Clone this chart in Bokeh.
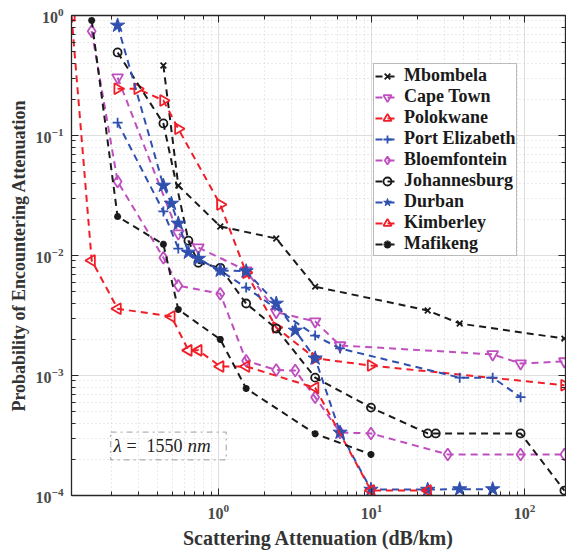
import math
from bokeh.plotting import figure
from bokeh.models import (Legend, LegendItem, LogAxis, LogTicker, Label,
                          BoxAnnotation, Range1d, CustomJSTickFormatter)
from bokeh.embed import file_html
from bokeh.resources import INLINE

# Scattering attenuation (dB/km) vs. probability of encountering it, per city
mbombela_x = [0.438, 0.548, 1.03, 2.39, 4.29, 23.3, 37.7, 182]
mbombela_y = [0.383, 0.0383, 0.01745, 0.01386, 5.5e-3, 3.48e-3, 2.71e-3, 2.03e-3]

cape_town_x = [0.220, 0.548, 0.741, 1.52, 2.39, 4.29, 6.24, 61.9, 94.2, 182]
cape_town_y = [0.304, 0.01525, 0.01166, 7.5e-3, 3.37e-3, 2.82e-3, 1.78e-3, 1.50e-3, 1.26e-3, 1.31e-3]

polokwane_x = [0.220, 0.297, 0.438, 0.548, 1.03, 1.52, 2.39, 4.29, 9.93, 182]
polokwane_y = [0.245, 0.245, 0.196, 0.1137, 0.0266, 7.2e-3, 2.51e-3, 1.39e-3, 1.21e-3, 8.3e-4]

port_elizabeth_x = [0.220, 0.438, 0.548, 1.03, 1.52, 4.29, 6.24, 37.7, 61.9, 94.2]
port_elizabeth_y = [0.128, 0.0233, 0.01143, 7.5e-3, 5.4e-3, 2.15e-3, 1.68e-3, 9.6e-4, 9.6e-4, 6.6e-4]

bloemfontein_x = [0.149, 0.220, 0.438, 0.548, 1.03, 1.52, 2.39, 3.18, 4.29, 6.24, 9.93, 31.5, 94.2, 182]
bloemfontein_y = [0.74, 0.0414, 9.6e-3, 5.6e-3, 4.8e-3, 1.33e-3, 1.11e-3, 1.10e-3, 6.6e-4, 3.35e-4,
                  3.29e-4, 2.2e-4, 2.2e-4, 2.2e-4]

johannesburg_x = [0.220, 0.438, 0.638, 0.741, 1.03, 1.52, 2.39, 4.29, 9.93, 23.3, 26.3, 94.2, 182]
johannesburg_y = [0.492, 0.126, 0.0133, 8.7e-3, 7.9e-3, 3.98e-3, 2.46e-3, 9.6e-4, 5.4e-4, 3.29e-4,
                  3.29e-4, 3.29e-4, 1.1e-4]

durban_x = [0.220, 0.438, 0.494, 0.548, 0.638, 0.741, 1.03, 1.52, 2.39, 3.18, 4.29, 6.24, 9.93, 23.3, 37.7, 61.9]
durban_y = [0.826, 0.0383, 0.0271, 0.0185, 0.0106, 9.4e-3, 7.5e-3, 7.4e-3, 3.98e-3, 2.37e-3, 1.39e-3,
            3.35e-4, 1.12e-4, 1.12e-4, 1.13e-4, 1.13e-4]

kimberley_x = [0.110, 0.149, 0.220, 0.494, 0.638, 0.741, 1.03, 1.52, 4.29, 9.93, 23.3]
kimberley_y = [1.0, 9.1e-3, 3.6e-3, 3.1e-3, 1.62e-3, 1.62e-3, 1.19e-3, 1.19e-3, 7.9e-4, 1.1e-4, 1.1e-4]

mafikeng_x = [0.149, 0.220, 0.438, 0.548, 1.03, 1.52, 4.29, 9.93]
mafikeng_y = [0.91, 0.0211, 0.0124, 3.55e-3, 2.0e-3, 7.8e-4, 3.27e-4, 2.2e-4]

BLACK = "#1a1a1a"
MAGENTA = "#bf4fbf"
RED = "#f01e28"
BLUE = "#3050b0"

series = [
    ("Mbombela", mbombela_x, mbombela_y, BLACK, dict(marker="x", size=8, line_width=1.8)),
    ("Cape Town", cape_town_x, cape_town_y, MAGENTA, dict(marker="inverted_triangle", size=11, line_width=1.8)),
    ("Polokwane", polokwane_x, polokwane_y, RED, dict(marker="triangle", size=11, line_width=1.8, angle=-math.pi / 2)),
    ("Port Elizabeth", port_elizabeth_x, port_elizabeth_y, BLUE, dict(marker="cross", size=10, line_width=1.8)),
    ("Bloemfontein", bloemfontein_x, bloemfontein_y, MAGENTA, dict(marker="diamond", size=12, line_width=1.8)),
    ("Johannesburg", johannesburg_x, johannesburg_y, BLACK, dict(marker="circle", size=8, line_width=1.8)),
    ("Durban", durban_x, durban_y, BLUE, dict(marker="star", size=15, line_width=1, filled=True)),
    ("Kimberley", kimberley_x, kimberley_y, RED, dict(marker="triangle", size=11, line_width=1.8, angle=math.pi / 2)),
    ("Mafikeng", mafikeng_x, mafikeng_y, BLACK, dict(marker="asterisk", size=7, line_width=2.2)),
]

p = figure(width=566, height=551, x_axis_type="log", y_axis_type="log",
           x_range=Range1d(0.11, 185), y_range=Range1d(1e-4, 1),
           output_backend="svg", toolbar_location=None,
           min_border_left=71, min_border_right=1, min_border_top=15, min_border_bottom=56)
p.background_fill_color = "white"
p.border_fill_color = "white"
p.outline_line_color = None

SERIF = "'Liberation Serif'"
AXIS_COL = "#262626"

for ax in (p.xaxis[0], p.yaxis[0]):
    ax.major_label_text_font = SERIF
    ax.major_label_text_font_style = "bold"
    ax.major_label_text_font_size = "16px"
    ax.major_label_text_color = "#4a4a4a"
    ax.axis_label_text_font = SERIF
    ax.axis_label_text_font_style = "bold"
    ax.axis_label_text_color = "#333333"
    ax.axis_line_color = AXIS_COL
    ax.axis_line_width = 1.3
    ax.major_tick_line_color = AXIS_COL
    ax.minor_tick_line_color = AXIS_COL
    ax.major_tick_in = 7
    ax.major_tick_out = 0
    ax.minor_tick_in = 4
    ax.minor_tick_out = 0
    ax.major_label_standoff = 8

p.xaxis.axis_label = "Scattering Attenuation (dB/km)"
p.yaxis.axis_label = "Probability of Encountering Attenuation"
p.xaxis.axis_label_text_font_size = "20px"
p.yaxis.axis_label_text_font_size = "18px"
p.xaxis.axis_label_standoff = 5
p.yaxis.axis_label_standoff = 4

# box frame: mirrored axes on top and right with inward ticks only
for side in ("above", "right"):
    ax = LogAxis(ticker=LogTicker(), formatter=CustomJSTickFormatter(code="return ' '"))
    ax.major_label_text_font_size = "2px"
    ax.major_label_text_alpha = 0
    ax.major_label_standoff = 0
    ax.axis_line_color = AXIS_COL
    ax.axis_line_width = 1.3
    ax.major_tick_line_color = AXIS_COL
    ax.minor_tick_line_color = AXIS_COL
    ax.major_tick_in = 7
    ax.major_tick_out = 0
    ax.minor_tick_in = 4
    ax.minor_tick_out = 0
    p.add_layout(ax, side)

p.grid.grid_line_color = "#dedede"
p.grid.grid_line_width = 1
p.grid.minor_grid_line_color = "#d4d4d4"
p.grid.minor_grid_line_dash = "1 3"
p.grid.minor_grid_line_width = 1

items = []
for name, xs, ys, color, mk in series:
    ln = p.line(xs, ys, line_color=color, line_width=2, line_dash="7 5")
    mk = dict(mk)
    marker = mk.pop("marker")
    filled = mk.pop("filled", False)
    sc = p.scatter(xs, ys, marker=marker, line_color=color,
                   fill_color=color if filled else None, **mk)
    items.append(LegendItem(label=name, renderers=[ln, sc]))

legend = Legend(items=items, location=(302, 239))
legend.label_text_font = SERIF
legend.label_text_font_style = "bold"
legend.label_text_font_size = "18px"
legend.label_text_color = "#1a1a1a"
legend.glyph_width = 24
legend.glyph_height = 20
legend.label_height = 20
legend.label_standoff = 5
legend.spacing = 0
legend.padding = 1
legend.margin = 0
legend.border_line_color = "#777777"
legend.border_line_width = 1.5
legend.background_fill_color = "white"
legend.background_fill_alpha = 1
p.add_layout(legend)

# wavelength note in a dash-dot box
p.add_layout(BoxAnnotation(left=0.198, right=1.127, bottom=1.98e-4, top=3.37e-4,
                           fill_alpha=0, line_color="#000000", line_dash="dashdot",
                           line_width=1.3))
note_x, note_y = 0.198, 2.61e-4
for txt, off, style, size in [("λ", 3, "italic", "19px"), ("=", 16, "normal", "18px"),
                              ("1550", 36, "normal", "18px"), ("nm", 77, "italic", "19px")]:
    p.add_layout(Label(x=note_x, y=note_y, x_offset=off, text=txt, text_font=SERIF,
                       text_font_style=style, text_font_size=size, text_color="#222222",
                       text_baseline="middle", text_align="left"))

open("out.html", "w").write(file_html(p, INLINE))
